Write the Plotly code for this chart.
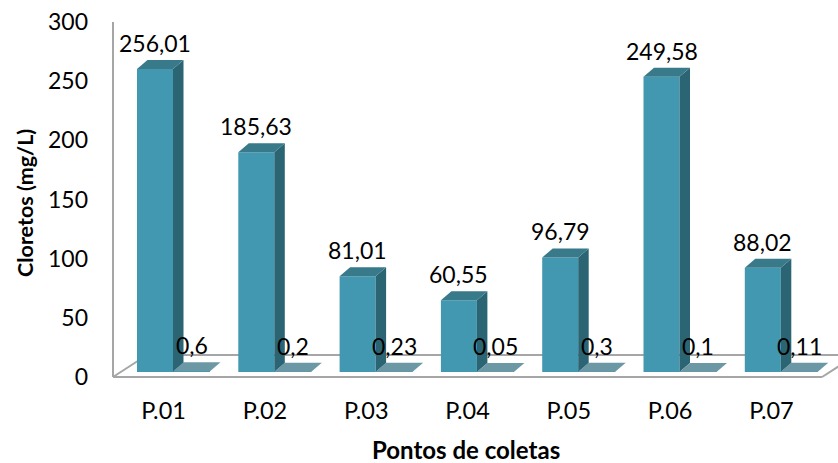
import plotly.graph_objects as go

# ---- data ----
categories = ["P.01", "P.02", "P.03", "P.04", "P.05", "P.06", "P.07"]
cloretos = [256.01, 185.63, 81.01, 60.55, 96.79, 249.58, 88.02]
serie2 = [0.6, 0.2, 0.23, 0.05, 0.3, 0.1, 0.11]
y_ticks = [0, 50, 100, 150, 200, 250, 300]
y_title = "Cloretos (mg/L)"
x_title = "Pontos de coletas"

# ---- layout constants (pixels) ----
W, H = 838, 463
AX_LEFT_PX = 113          # x of value axis / floor front-left corner
ZERO_PX = 377             # pixel row of value 0
TOP_PX = 22               # pixel row of value 300
SLOT_PX = 101.3           # width of one category slot on the floor front edge
KY = (ZERO_PX - TOP_PX) / 300.0
PLOT_L, PLOT_R, PLOT_T, PLOT_B = 103, 838, 8, 392


def ux(px):
    return px / SLOT_PX


def uy(px):
    return px / KY


x_range = [ux(PLOT_L - AX_LEFT_PX), ux(PLOT_R - AX_LEFT_PX)]
y_range = [-uy(PLOT_B - ZERO_PX), 300 + uy(TOP_PX - PLOT_T)]

# 3D geometry
BAR1_OFF, BAR1_W = ux(24), ux(36)
BAR2_OFF, BAR2_W = ux(60), ux(37)
BASE = uy(5)
DX, DY = ux(10.5), uy(9)              # bar depth vector
FDX, FDY = ux(34), uy(22)             # floor depth vector

FRONT = "#4298B0"
SIDE = "#2B6573"
TOP = "#38798A"
TOP2 = "#6C98A5"
GRID = "#A6A6A6"
FONT = "Lato"

n = len(categories)
fig = go.Figure()

# front faces through bar traces
fig.add_trace(go.Bar(
    x=[i + BAR1_OFF + BAR1_W / 2 for i in range(n)], y=cloretos, base=BASE,
    width=BAR1_W, marker=dict(color=FRONT, line=dict(width=0)),
    hoverinfo="skip", showlegend=False))
fig.add_trace(go.Bar(
    x=[i + BAR2_OFF + BAR2_W / 2 for i in range(n)], y=serie2, base=BASE,
    width=BAR2_W, marker=dict(color=FRONT, line=dict(width=0)),
    hoverinfo="skip", showlegend=False))


def faces(xl, w, v, top_color):
    xr = xl + w
    top = BASE + v
    side = dict(x=[xr, xr + DX, xr + DX, xr, xr],
                y=[BASE, BASE + DY, top + DY, top, BASE])
    topf = dict(x=[xl, xr, xr + DX, xl + DX, xl],
                y=[top, top, top + DY, top + DY, top])
    fig.add_trace(go.Scatter(**side, mode="lines", fill="toself",
                             fillcolor=SIDE, line=dict(width=0, color=SIDE),
                             hoverinfo="skip", showlegend=False))
    fig.add_trace(go.Scatter(**topf, mode="lines", fill="toself",
                             fillcolor=top_color, line=dict(width=0, color=top_color),
                             hoverinfo="skip", showlegend=False))


for i in range(n):
    faces(i + BAR1_OFF, BAR1_W, cloretos[i], TOP)
    faces(i + BAR2_OFF, BAR2_W, serie2[i], TOP2)


def fmt(v):
    return f"{v}".replace(".", ",")


annotations = []
for i in range(n):
    for off, w, vals in ((BAR1_OFF, BAR1_W, cloretos), (BAR2_OFF, BAR2_W, serie2)):
        annotations.append(dict(
            x=i + off + w / 2, y=BASE + vals[i], xref="x", yref="y",
            text=fmt(vals[i]), showarrow=False, yanchor="middle", yshift=26,
            font=dict(family=FONT, size=23, color="#000000")))

plot_w = PLOT_R - PLOT_L
plot_h = PLOT_B - PLOT_T
annotations.append(dict(
    text=f"<b>{y_title}</b>", textangle=-90, showarrow=False,
    xref="paper", yref="paper", x=(25 - PLOT_L) / plot_w,
    y=(PLOT_B - 203) / plot_h,
    xanchor="center", yanchor="middle",
    font=dict(family=FONT, size=21.5, color="#000000")))
annotations.append(dict(
    text=f"<b>{x_title}</b>", showarrow=False,
    xref="paper", yref="paper", x=(466 - PLOT_L) / plot_w,
    y=-(449 - PLOT_B) / plot_h, xanchor="center", yanchor="middle",
    font=dict(family=FONT, size=24, color="#000000")))

# floor and value axis lines
line = dict(color=GRID, width=2)
shapes = [
    dict(type="line", xref="x", yref="y", x0=0, y0=0, x1=n, y1=0, line=line, layer="below"),
    dict(type="line", xref="x", yref="y", x0=n, y0=0, x1=n + FDX, y1=FDY, line=line, layer="below"),
    dict(type="line", xref="x", yref="y", x0=FDX, y0=FDY, x1=n + FDX, y1=FDY, line=line, layer="below"),
    dict(type="line", xref="x", yref="y", x0=0, y0=0, x1=FDX, y1=FDY, line=line, layer="below"),
    dict(type="line", xref="x", yref="y", x0=0, y0=0, x1=0, y1=y_ticks[-1], line=line, layer="below"),
]

fig.update_layout(
    width=W, height=H,
    margin=dict(l=PLOT_L, r=W - PLOT_R, t=PLOT_T, b=H - PLOT_B, pad=0),
    paper_bgcolor="white", plot_bgcolor="white",
    barmode="overlay", showlegend=False,
    annotations=annotations, shapes=shapes,
    xaxis=dict(range=x_range, showgrid=False, zeroline=False, showline=False,
               tickmode="array", tickvals=[i + 0.5 for i in range(n)], ticktext=categories,
               ticks="", ticklabelstandoff=2,
               tickfont=dict(family=FONT, size=23.5, color="#000000"), fixedrange=True),
    yaxis=dict(range=y_range, showgrid=False, zeroline=False, showline=False,
               tickmode="array", tickvals=y_ticks, ticktext=[str(t) for t in y_ticks],
               ticks="", ticklabelstandoff=14,
               tickfont=dict(family=FONT, size=23, color="#000000"), fixedrange=True),
)

fig.write_html("out.html", config={"displayModeBar": False})
